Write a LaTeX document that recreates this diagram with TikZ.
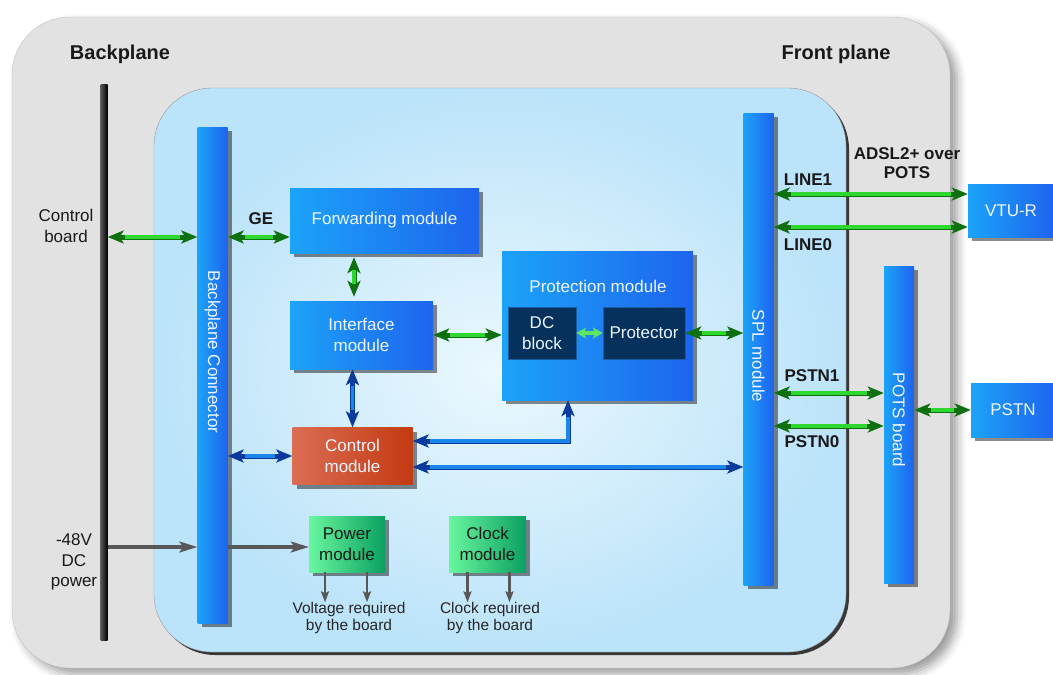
\documentclass[tikz,border=0pt]{standalone}
\usepackage{fontspec}
\setmainfont{Liberation Sans}
\usepackage{graphicx}
\usetikzlibrary{arrows.meta,shadows,shadows.blur}

\definecolor{chassis}{HTML}{E2E2E2}
\definecolor{boardin}{HTML}{EBF8FE}
\definecolor{boardout}{HTML}{BBE3F9}
\definecolor{modL}{HTML}{1CA3F8}
\definecolor{modR}{HTML}{1E64EE}
\definecolor{modtext}{HTML}{EEF6FF}
\definecolor{navy}{HTML}{06315D}
\definecolor{navyedge}{HTML}{1B5C9E}
\definecolor{ctrlL}{HTML}{DA6D53}
\definecolor{ctrlR}{HTML}{C43A12}
\definecolor{pwrL}{HTML}{68F69E}
\definecolor{pwrR}{HTML}{0BA061}
\definecolor{gdark}{HTML}{0E700E}
\definecolor{gglow}{HTML}{2FD82F}
\definecolor{glight}{HTML}{5FE85F}
\definecolor{bdark}{HTML}{0A3A9C}
\definecolor{bglow}{HTML}{1A86EA}
\definecolor{pdark}{HTML}{585858}

\begin{document}
\begin{tikzpicture}[x=1pt, y=-1pt,
  every node/.style={font=\fontsize{17}{21}\selectfont, align=center, inner sep=0pt},
  shd/.style={drop shadow={shadow xshift=4pt, shadow yshift=-4pt, opacity=.45, fill=black}},
  mod/.style={shd, left color=modL, right color=modR, text=modtext},
  ctrl/.style={shd, left color=ctrlL, right color=ctrlR, text=modtext},
  pwr/.style={shd, left color=pwrL, right color=pwrR, text=black!90},
  dark/.style={fill=navy, draw=navyedge, line width=.6pt, text=modtext},
  bar/.style={mod, minimum width=30},
  bartxt/.style={rotate=-90, text=modtext},
  lbl/.style={font=\bfseries\fontsize{17}{20}\selectfont, text=black!90},
  title/.style={font=\bfseries\fontsize{20}{24}\selectfont, text=black!90},
  note/.style={font=\fontsize{15.5}{16.5}\selectfont, text=black!85},
  garrow/.style={{Stealth[length=16pt,width=13pt,inset=4pt]}-{Stealth[length=16pt,width=13pt,inset=4pt]},
                 draw=gdark, line width=5pt,
                 postaction={draw=gglow, -, line width=3.4pt, shorten <=17pt, shorten >=17pt}},
  lgarrow/.style={{Stealth[length=10pt,width=11pt,inset=3pt]}-{Stealth[length=10pt,width=11pt,inset=3pt]},
                  draw=glight, line width=3.5pt},
  barrow/.style={{Stealth[length=16pt,width=13pt,inset=4pt]}-{Stealth[length=16pt,width=13pt,inset=4pt]},
                 draw=bdark, line width=5pt,
                 postaction={draw=bglow, -, line width=3.2pt, shorten <=17pt, shorten >=17pt}},
  parrow/.style={-{Stealth[length=18pt,width=11pt,inset=4pt]}, draw=pdark, line width=3.2pt},
  sarrow/.style={-{Stealth[length=11pt,width=8pt,inset=2pt]}, draw=pdark, line width=2.4pt}
]
\useasboundingbox (0,0) rectangle (1053,675);

% chassis and board
\path[fill=chassis, draw=black!25, rounded corners=58,
      blur shadow={shadow xshift=7pt, shadow yshift=-6pt, shadow blur radius=9pt}]
  (12,17) rectangle (950,668);
\path[inner color=boardin, outer color=boardout, draw=black!40, rounded corners=58,
      drop shadow={shadow xshift=3pt, shadow yshift=-3pt, opacity=.75, fill=black}]
  (154,88) rectangle (846,652);

\node[title] (bptitle) at (120,54) {Backplane};
\node[title] (fptitle) at (836,54) {Front plane};

% backplane bar
\node[left color=black!65, right color=black, minimum width=7, minimum height=556] (bp) at (104,362) {};

% modules
\node[bar, minimum height=496] (bpc) at (212.5,375) {};
\node[bartxt] (bpctxt) at (212.5,352) {Backplane Connector};
\node[bar, minimum height=472] (spl) at (758.5,349) {};
\node[bartxt] (spltxt) at (758.5,356) {SPL module};
\node[bar, minimum height=317] (pots) at (899,424.5) {};
\node[bartxt] (potstxt) at (899,420) {POTS board};

\node[mod, minimum width=189, minimum height=65] (fwd) at (384.5,220.5) {Forwarding module};
\node[mod, minimum width=143, minimum height=68] (intf) at (361.5,335) {Interface\\module};
\node[mod, minimum width=191, minimum height=149] (prot) at (597.5,325.5) {};
\node[text=modtext] (protlbl) at (598,286) {Protection module};
\node[dark, minimum width=68, minimum height=52] (dcb) at (542,333) {DC\\block};
\node[dark, minimum width=82, minimum height=52] (prt) at (644,333) {Protector};
\node[ctrl, minimum width=120, minimum height=57] (ctl) at (352.5,456) {Control\\module};
\node[pwr, minimum width=76, minimum height=56] (pwr) at (347,544) {Power\\module};
\node[pwr, minimum width=77, minimum height=56] (clk) at (487.5,544) {Clock\\module};

\node[mod, minimum width=86, minimum height=53] (vtu) at (1011,210.5) {VTU-R};
\node[mod, minimum width=84, minimum height=54] (pstn) at (1013,410) {PSTN};

% labels
\node[text=black!90] (cb) at (66,226) {Control\\board};
\node[text=black!90, font=\fontsize{17}{20.5}\selectfont] (dcp) at (74,562) {-48V\\DC\\power};
\node[lbl] (ge) at (261,219) {GE};
\node[lbl, font=\bfseries\fontsize{17}{19}\selectfont] (adsl) at (907,163) {ADSL2+ over\\POTS};
\node[lbl] (l1) at (808,180) {LINE1};
\node[lbl] (l0) at (808,245) {LINE0};
\node[lbl] (p1) at (812,376) {PSTN1};
\node[lbl] (p0) at (812,442) {PSTN0};
\node[note] (vreq) at (349,618) {Voltage required\\by the board};
\node[note] (creq) at (490,618) {Clock required\\by the board};

% connector rows
\coordinate (rowcb) at (0,237);
\coordinate (rowdc) at (0,547);
\coordinate (colfi) at (354,0);
\coordinate (tap) at (568,441);
\coordinate (rowcs) at (0,467);
\coordinate (rowl1) at (0,194);
\coordinate (rowl0) at (0,227);
\coordinate (rowp1) at (0,393);
\coordinate (rowp0) at (0,426);

% green links
\draw[garrow] (bp.east |- rowcb) -- (bpc.west |- rowcb);
\draw[garrow] (bpc.east |- rowcb) -- (fwd.west |- rowcb);
\draw[garrow, shorten <=4pt, shorten >=4pt] (fwd.south -| colfi) -- (intf.north -| colfi);
\draw[garrow] (intf.east) -- (prot.west |- intf.east);
\draw[lgarrow] (dcb.east) -- (prt.west);
\draw[garrow] (prt.east) -- (spl.west |- prt.east);
\draw[garrow] (spl.east |- rowl1) -- (vtu.west |- rowl1);
\draw[garrow] (spl.east |- rowl0) -- (vtu.west |- rowl0);
\draw[garrow] (spl.east |- rowp1) -- (pots.west |- rowp1);
\draw[garrow] (spl.east |- rowp0) -- (pots.west |- rowp0);
\draw[garrow] (pots.east |- pstn.west) -- (pstn.west);

% blue links
\draw[barrow] (ctl.north) -- (ctl.north |- intf.south);
\draw[barrow] (bpc.east |- ctl.west) -- (ctl.west);
\draw[barrow] (ctl.east |- tap) -| (prot.south -| tap);
\draw[barrow] (ctl.east |- rowcs) -- (spl.west |- rowcs);

% power
\draw[parrow] (bp.east |- rowdc) -- (bpc.west |- rowdc);
\draw[parrow] (bpc.east |- rowdc) -- (pwr.west |- rowdc);
\draw[sarrow] ([xshift=-22pt]pwr.south) -- ([xshift=-22pt]pwr.south |- vreq.north);
\draw[sarrow] ([xshift=20pt]pwr.south) -- ([xshift=20pt]pwr.south |- vreq.north);
\draw[sarrow] ([xshift=-20pt]clk.south) -- ([xshift=-20pt]clk.south |- creq.north);
\draw[sarrow] ([xshift=22pt]clk.south) -- ([xshift=22pt]clk.south |- creq.north);
\end{tikzpicture}
\end{document}
